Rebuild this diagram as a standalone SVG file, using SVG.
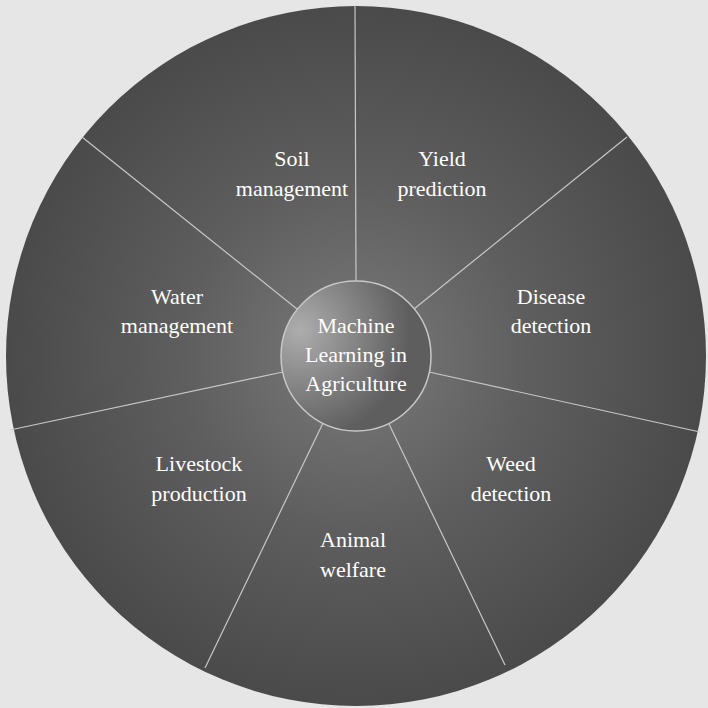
<svg xmlns="http://www.w3.org/2000/svg" width="708" height="708" viewBox="0 0 708 708">
<defs>
<radialGradient id="outer" cx="356" cy="356" r="350" gradientUnits="userSpaceOnUse">
<stop offset="0" stop-color="#7a7a7a"/><stop offset="0.5" stop-color="#5e5e5e"/><stop offset="1" stop-color="#4a4a4a"/>
</radialGradient>
<radialGradient id="inner" cx="300" cy="330" r="110" gradientUnits="userSpaceOnUse">
<stop offset="0" stop-color="#adadad"/><stop offset="1" stop-color="#5e5e5e"/>
</radialGradient>
<style>
text{font-family:"Liberation Serif","DejaVu Serif",serif;font-size:22px;fill:#fff;text-anchor:middle}
.div{stroke:#c8c8c8;stroke-width:1.2}
</style>
</defs>
<rect width="708" height="708" fill="#e6e6e6"/>
<circle cx="356" cy="356" r="350" fill="url(#outer)"/>
<g id="connectors">
<line class="div" x1="356" y1="281" x2="355" y2="5"/>
<line class="div" x1="414" y1="309" x2="627" y2="137"/>
<line class="div" x1="429" y1="372" x2="700" y2="432"/>
<line class="div" x1="389" y1="424" x2="505" y2="665"/>
<line class="div" x1="323" y1="423" x2="205" y2="668"/>
<line class="div" x1="283" y1="372" x2="10" y2="430"/>
<line class="div" x1="297" y1="309" x2="82" y2="137"/>
</g>
<g id="center"><circle cx="356" cy="356" r="75" fill="url(#inner)" stroke="#c8c8c8" stroke-width="1.5"/>
<text x="356" y="333">Machine</text><text x="356" y="362">Learning in</text><text x="356" y="391">Agriculture</text></g>
<g id="soil"><text x="292" y="166">Soil</text><text x="292" y="196">management</text></g>
<g id="yield"><text x="442" y="166">Yield</text><text x="442" y="196">prediction</text></g>
<g id="disease"><text x="551" y="304">Disease</text><text x="551" y="333">detection</text></g>
<g id="weed"><text x="511" y="471">Weed</text><text x="511" y="501">detection</text></g>
<g id="animal"><text x="353" y="547">Animal</text><text x="353" y="577">welfare</text></g>
<g id="livestock"><text x="199" y="471">Livestock</text><text x="199" y="501">production</text></g>
<g id="water"><text x="177" y="304">Water</text><text x="177" y="333">management</text></g>
</svg>
